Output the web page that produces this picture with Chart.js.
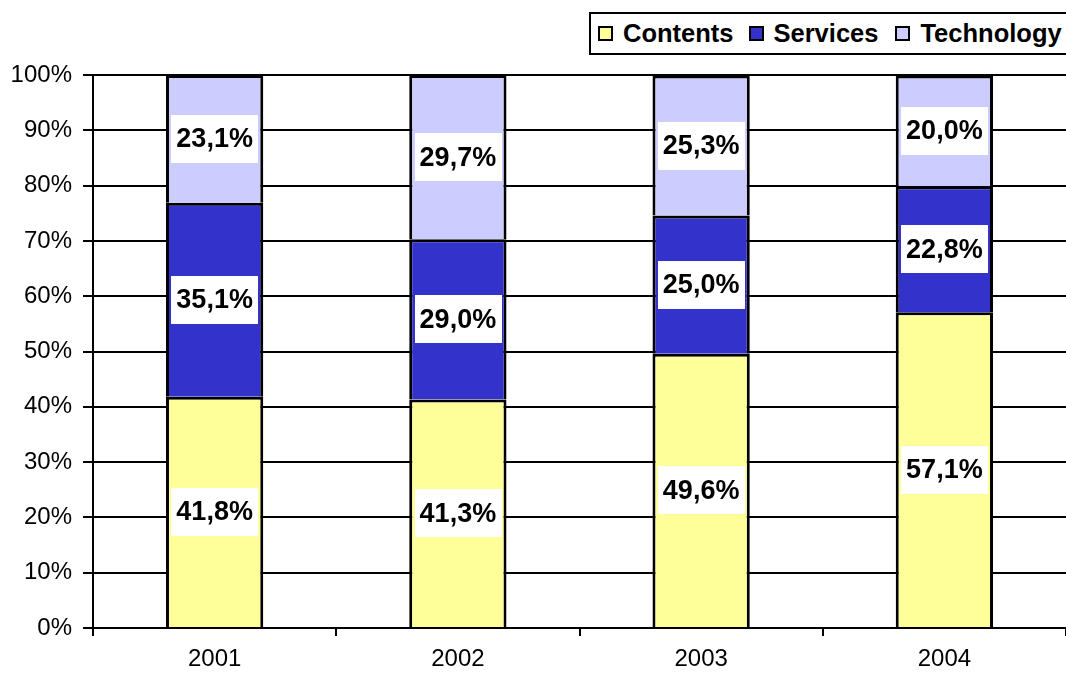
<!DOCTYPE html>
<html>
<head>
<meta charset="utf-8">
<script src="https://cdn.jsdelivr.net/npm/chart.js@4/dist/chart.umd.min.js"></script>
<style>
  body { margin: 0; background: #fff; font-family: 'Liberation Sans', Arial, sans-serif; }
  #wrap { position: relative; width: 1066px; height: 675px; overflow: hidden; }
  #legend {
    position: absolute; left: 589px; top: 12px; width: 490px; height: 43px;
    border: 2px solid #000; box-sizing: border-box; background: #fff;
    display: flex; align-items: center; padding-left: 7px;
    font-weight: bold; font-size: 25.5px; color: #000;
  }
  .lg-item { display: flex; align-items: center; margin-right: 15px; }
  .lg-item:nth-child(2) { margin-right: 17px; }
  .lg-box { width: 11px; height: 11px; border: 2px solid #000; margin-right: 10px; }
</style>
</head>
<body>
<div id="wrap">
  <canvas id="chart" width="1066" height="675"></canvas>
  <div id="legend"></div>
</div>
<script>
const years = ['2001', '2002', '2003', '2004'];
const contents = [41.8, 41.3, 49.6, 57.1];
const services = [35.1, 29.0, 25.0, 22.8];
const technology = [23.1, 29.7, 25.3, 20.0];
const yTicks = [0, 10, 20, 30, 40, 50, 60, 70, 80, 90, 100];

const COLORS = { contents: '#ffff99', services: '#3333cc', technology: '#ccccff' };
const FONT = "'Liberation Sans', Arial, sans-serif";

const series = [
  { label: 'Contents', data: contents, color: COLORS.contents },
  { label: 'Services', data: services, color: COLORS.services },
  { label: 'Technology', data: technology, color: COLORS.technology },
];

document.getElementById('legend').innerHTML = series.map(s => `
  <div class="lg-item"><span class="lg-box" style="background:${s.color}"></span><span>${s.label}</span></div>
`).join('');

// white label boxes in the middle of each segment
const segLabels = {
  id: 'segLabels',
  afterDatasetsDraw(chart) {
    const ctx = chart.ctx;
    ctx.save();
    ctx.font = `bold 27px ${FONT}`;
    ctx.textAlign = 'center';
    ctx.textBaseline = 'middle';
    chart.data.datasets.forEach((ds, i) => {
      chart.getDatasetMeta(i).data.forEach((bar, j) => {
        const txt = ds.data[j].toFixed(1).replace('.', ',') + '%';
        const cy = (bar.y + bar.base) / 2;
        const w = ctx.measureText(txt).width + 10;
        const h = 48;
        ctx.fillStyle = '#fff';
        ctx.fillRect(Math.round(bar.x - w / 2), Math.round(cy - h / 2), Math.round(w), h);
        ctx.fillStyle = '#000';
        ctx.fillText(txt, bar.x, cy + 1);
      });
    });
    ctx.restore();
  }
};

new Chart(document.getElementById('chart'), {
  type: 'bar',
  data: {
    labels: years,
    datasets: series.map(s => ({
      label: s.label,
      data: s.data,
      backgroundColor: s.color,
      borderColor: '#000',
      borderWidth: 3,
      borderSkipped: 'start',
      inflateAmount: 0,
      barPercentage: 0.4,
      categoryPercentage: 1,
    })),
  },
  options: {
    responsive: false,
    animation: false,
    layout: { padding: { top: 75, right: 0, left: 0, bottom: 0 } },
    plugins: { legend: { display: false }, tooltip: { enabled: false } },
    scales: {
      x: {
        stacked: true,
        afterFit: s => { s.height = 47; },
        grid: { offset: true, drawOnChartArea: false, color: '#000', lineWidth: 2, tickLength: 8 },
        border: { display: false },
        ticks: { color: '#000', font: { family: FONT, size: 24 }, padding: 9 },
      },
      y: {
        stacked: true,
        min: 0, max: 100,
        afterFit: s => { s.width = 93; },
        afterBuildTicks: s => { s.ticks = yTicks.map(v => ({ value: v })); },
        grid: { color: '#000', lineWidth: 2, tickLength: 10 },
        border: { color: '#000', width: 2 },
        ticks: { color: '#000', font: { family: FONT, size: 24 }, padding: 11, callback: v => v + '%' },
      },
    },
  },
  plugins: [segLabels],
});
</script>
</body>
</html>
